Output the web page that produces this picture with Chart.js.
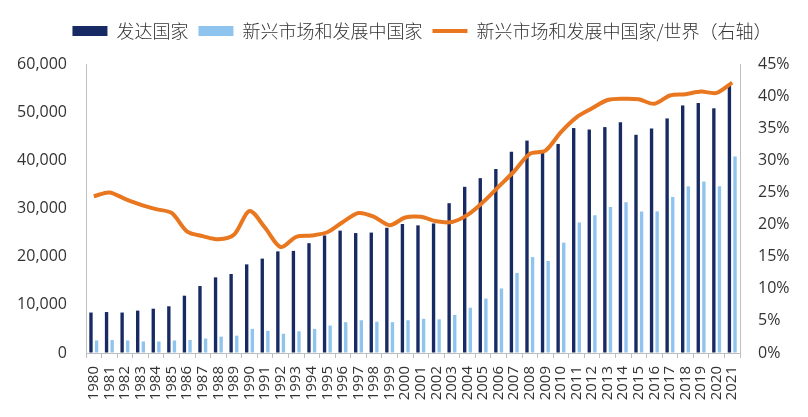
<!DOCTYPE html>
<html>
<head>
<meta charset="utf-8">
<script src="https://cdn.jsdelivr.net/npm/chart.js@4"></script>
<style>
  html, body { margin: 0; padding: 0; background: #fff; }
  #wrap { width: 808px; height: 417px; }
</style>
</head>
<body>
<div id="wrap"><canvas id="myChart"></canvas></div>
<script>
const years = [];
for (let y = 1980; y <= 2021; y++) years.push(String(y));

// 发达国家
const developed = [8400, 8500, 8400, 8800, 9200, 9700, 11900, 13900, 15700, 16400,
    18400, 19600, 21100, 21200, 22800, 24400, 25400, 24900, 25000, 26000,
    26800, 26500, 26900, 31100, 34500, 36300, 38200, 41800, 44100, 41500,
    43400, 46700, 46400, 46900, 47900, 45300, 46600, 48700, 51400, 51900, 50800, 55500];

// 新兴市场和发展中国家
const emerging = [2600, 2700, 2600, 2400, 2400, 2600, 2700, 3000, 3400, 3600,
    5000, 4600, 4000, 4500, 5000, 5700, 6400, 6800, 6500, 6400,
    6800, 7100, 7000, 7900, 9400, 11300, 13400, 16600, 19900, 19100,
    22900, 27100, 28600, 30300, 31300, 29400, 29400, 32400, 34600, 35600, 34600, 40800];

// 新兴市场和发展中国家/世界 (%)
const share = [24.4, 25.0, 24.0, 23.1, 22.4, 21.8, 18.9, 18.2, 17.7, 18.4,
    22.1, 19.5, 16.5, 18.1, 18.3, 18.8, 20.4, 21.8, 21.2, 19.9,
    21.1, 21.2, 20.5, 20.4, 21.5, 23.5, 25.9, 28.3, 31.0, 31.5,
    34.4, 36.7, 38.1, 39.4, 39.6, 39.5, 38.8, 40.1, 40.3, 40.7, 40.5, 42.1];

const tickFont = { family: "'Open Sans', 'Noto Sans', sans-serif", size: 16 };
const axisColor = '#BFBFBF';

// legend: a bit right of centre, more room below it
const legendTweak = {
    id: 'legendTweak',
    beforeUpdate(chart) {
        const l = chart.legend;
        if (l && !l._tweaked) {
            l._tweaked = true;
            const fit = l.fit;
            l.fit = function () {
                fit.call(this);
                this.height += 14;
            };
        }
    },
    afterLayout(chart) {
        const l = chart.legend;
        if (!l) return;
        l.left += 18;
        l.right += 18;
    }
};

const ctx = document.getElementById('myChart').getContext('2d');

const data = {
    labels: years,
    datasets: [{
        type: 'line',
        label: '新兴市场和发展中国家/世界（右轴）',
        data: share,
        yAxisID: 'y1',
        borderColor: '#E8771F',
        backgroundColor: '#E8771F',
        borderWidth: 4,
        pointRadius: 0,
        tension: 0.3,
        pointStyle: 'line',
        order: 0
    }, {
        type: 'bar',
        label: '发达国家',
        data: developed,
        yAxisID: 'y',
        backgroundColor: '#172A63',
        pointStyle: 'rect',
        categoryPercentage: 0.72,
        barPercentage: 0.6,
        order: 1
    }, {
        type: 'bar',
        label: '新兴市场和发展中国家',
        data: emerging,
        yAxisID: 'y',
        backgroundColor: '#8EC4EE',
        pointStyle: 'rect',
        categoryPercentage: 0.72,
        barPercentage: 0.6,
        order: 2
    }]
};

const config = {
    data: data,
    options: {
        responsive: true,
        maintainAspectRatio: false,
        animation: false,
        layout: { padding: { left: 0, top: 12, right: 0, bottom: 0 } },
        plugins: {
            tooltip: { enabled: false },
            legend: {
                position: 'top',
                labels: {
                    sort: (a, b) => [1, 2, 0].indexOf(a.datasetIndex) - [1, 2, 0].indexOf(b.datasetIndex),
                    usePointStyle: true,
                    pointStyleWidth: 35,
                    boxHeight: 10,
                    padding: 10,
                    color: '#333',
                    font: { family: "'Noto Sans CJK SC', sans-serif", size: 18, weight: 300 }
                }
            }
        },
        scales: {
            x: {
                offset: true,
                grid: { display: true, drawOnChartArea: false, offset: true, tickLength: 5, color: axisColor },
                border: { color: axisColor },
                ticks: {
                    autoSkip: false, maxRotation: 90, minRotation: 90, padding: 8,
                    color: '#333',
                    font: { family: "'Open Sans', 'Noto Sans', sans-serif", size: 15 }
                },
                afterFit: s => { s.height = 64; }
            },
            y: {
                position: 'left',
                min: 0, max: 60000,
                ticks: {
                    stepSize: 10000, padding: 19, color: '#333', font: tickFont,
                    callback: v => v.toLocaleString('en-US')
                },
                grid: { drawOnChartArea: false, drawTicks: false, color: axisColor },
                border: { color: axisColor },
                afterFit: s => { s.width = 86; }
            },
            y1: {
                position: 'right',
                min: 0, max: 45,
                ticks: {
                    stepSize: 5, padding: 18, color: '#333', font: tickFont,
                    callback: v => v + '%'
                },
                grid: { drawOnChartArea: false, drawTicks: false, color: axisColor },
                border: { color: axisColor },
                afterFit: s => { s.width = 68; }
            }
        }
    },
    plugins: [legendTweak]
};

new Chart(ctx, config);
</script>
</body>
</html>
